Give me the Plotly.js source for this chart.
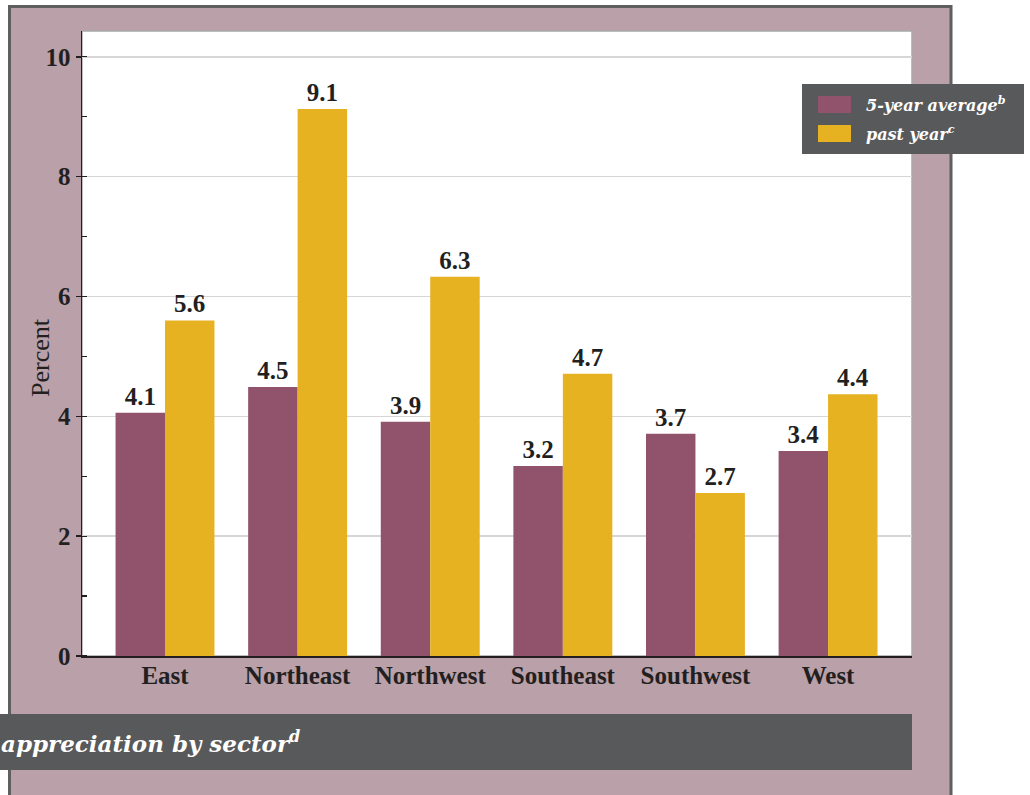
<!DOCTYPE html>
<html>
<head>
<meta charset="utf-8">
<script src="https://cdn.plot.ly/plotly-3.0.1.min.js"></script>
<style>html,body{margin:0;padding:0;background:#fff;}</style>
</head>
<body>
<div id="chart" style="width:1030px;height:795px;"></div>
<script>
// ---- data ----
const sectors = ["East", "Northeast", "Northwest", "Southeast", "Southwest", "West"];
const fiveYearAverage = [4.06, 4.49, 3.91, 3.17, 3.71, 3.42];
const pastYear = [5.60, 9.13, 6.33, 4.71, 2.72, 4.37];
const seriesNames = ["5-year average", "past year"];
const seriesSup = ["b", "c"];
const yTickVals = [0, 2, 4, 6, 8, 10];
const chartTitle = "appreciation by sector";
const titleSup = "d";
const yTitle = "Percent";

// ---- geometry helpers (pixel -> paper) ----
const W = 1030, H = 795;
const L = 82, R = 912, T = 31, B = 656;
const px = v => (v - L) / (R - L);
const py = v => (B - v) / (B - T);

const MAUVE = "#91526b", GOLD = "#e6b222", PANEL = "#b9a0a9", DARK = "#58595b", INK = "#231f20";
const tickFont = {family: "Liberation Serif, Times New Roman, serif", size: 25, color: INK, weight: 700};
const italicFont = (size) => ({family: "DejaVu Serif, serif", size: size, color: "#ffffff", weight: 700, style: "italic"});

const traces = [
  {type: "bar", name: seriesNames[0], x: sectors, y: fiveYearAverage, marker: {color: MAUVE},
   texttemplate: "%{y:.1f}", textposition: "outside", textfont: tickFont, cliponaxis: false, hoverinfo: "x+y"},
  {type: "bar", name: seriesNames[1], x: sectors, y: pastYear, marker: {color: GOLD},
   texttemplate: "%{y:.1f}", textposition: "outside", textfont: tickFont, cliponaxis: false, hoverinfo: "x+y"}
];

const shapes = [
  // outer panel
  {type: "rect", xref: "paper", yref: "paper", layer: "below",
   x0: px(9.5), x1: px(951), y0: py(6.5), y1: py(820), fillcolor: PANEL, line: {color: "#5f5f5f", width: 3}},
  // white plot area with thin grey frame
  {type: "rect", xref: "paper", yref: "paper", layer: "below",
   x0: 0, x1: 1, y0: 0, y1: 1, fillcolor: "#ffffff", line: {color: "#a8a8a8", width: 1.5}},
  // legend box
  {type: "rect", xref: "paper", yref: "paper", layer: "above",
   x0: px(802), x1: px(1024), y0: py(154), y1: py(84), fillcolor: DARK, line: {width: 0}},
  {type: "rect", xref: "paper", yref: "paper", layer: "above",
   x0: px(818), x1: px(851), y0: py(113), y1: py(96), fillcolor: MAUVE, line: {width: 0}},
  {type: "rect", xref: "paper", yref: "paper", layer: "above",
   x0: px(818), x1: px(851), y0: py(142), y1: py(125), fillcolor: GOLD, line: {width: 0}},
  // bottom title bar
  {type: "rect", xref: "paper", yref: "paper", layer: "above",
   x0: px(-5), x1: px(912), y0: py(770), y1: py(714), fillcolor: DARK, line: {width: 0}}
];

const annotations = [
  {xref: "paper", yref: "paper", x: px(864), y: py(104), xanchor: "left", yanchor: "middle", showarrow: false,
   text: seriesNames[0] + "<sup>" + seriesSup[0] + "</sup>", font: italicFont(16)},
  {xref: "paper", yref: "paper", x: px(864), y: py(133), xanchor: "left", yanchor: "middle", showarrow: false,
   text: seriesNames[1] + "<sup>" + seriesSup[1] + "</sup>", font: italicFont(16)},
  {xref: "paper", yref: "paper", x: px(0), y: py(742), xanchor: "left", yanchor: "middle", showarrow: false,
   text: chartTitle + "<sup>" + titleSup + "</sup>", font: italicFont(23), borderpad: 0},
  {xref: "paper", yref: "paper", x: px(40), y: py(358), xanchor: "center", yanchor: "middle", showarrow: false,
   textangle: -90, text: yTitle, font: {family: "Liberation Serif, Times New Roman, serif", size: 26, color: INK}}
];

const layout = {
  width: W, height: H, autosize: false,
  margin: {l: L, r: W - R, t: T, b: H - B, pad: 0},
  paper_bgcolor: "#ffffff", plot_bgcolor: "rgba(0,0,0,0)",
  barmode: "group", bargap: 0.254, bargroupgap: 0,
  showlegend: false,
  xaxis: {type: "category", range: [-0.626, 5.633], showline: true, linecolor: INK, linewidth: 2,
          ticks: "", showgrid: false, zeroline: false, tickfont: tickFont, fixedrange: true, ticklabelstandoff: -4},
  yaxis: {range: [0, 10.43], tickvals: yTickVals, ticktext: yTickVals.map(String), showgrid: true, gridcolor: "#d6d6d6", gridwidth: 1.5,
          showline: true, linecolor: INK, linewidth: 1.5, ticks: "outside", ticklen: 5, tickwidth: 1.5, tickcolor: INK,
          zeroline: false, tickfont: tickFont, fixedrange: true,
          minor: {dtick: 1, tick0: 0, ticks: "inside", ticklen: 5, tickwidth: 1.2, tickcolor: INK, showgrid: false}},
  shapes: shapes,
  annotations: annotations
};

Plotly.newPlot("chart", traces, layout, {displayModeBar: false, staticPlot: true});
</script>
</body>
</html>
